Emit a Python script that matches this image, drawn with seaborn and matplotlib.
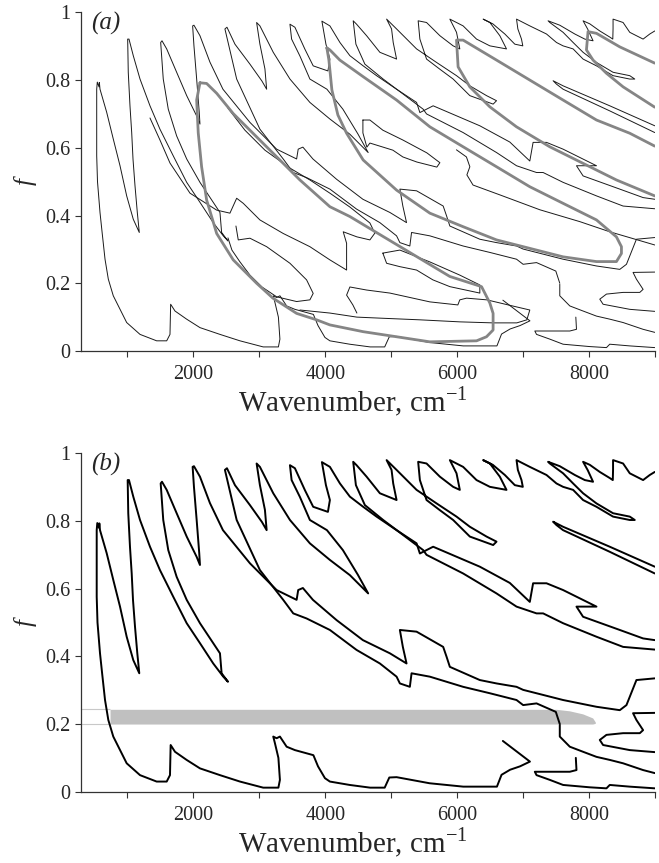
import matplotlib
matplotlib.use("Agg")
import matplotlib.pyplot as plt
import seaborn as sns

# contour traces: (wavenumber cm-1, f)
edge_main = [(6690, 0.15), (7100, 0.089), (6950, 0.075), (6800, 0.065), (6670, 0.05), (6600, 0.015),
             (6090, 0.015), (5580, 0.025), (5080, 0.043), (4970, 0.042), (4900, 0.012), (4680, 0.012),
             (4370, 0.02), (4070, 0.03), (3995, 0.04), (3890, 0.075), (3820, 0.108), (3540, 0.123),
             (3415, 0.133), (3313, 0.163), (3263, 0.158), (3212, 0.163), (3238, 0.143), (3290, 0.10),
             (3313, 0.035), (3290, 0.012), (3060, 0.012), (2708, 0.03), (2405, 0.049), (2102, 0.069),
             (1900, 0.094), (1724, 0.118), (1658, 0.138), (1648, 0.049), (1598, 0.03), (1446, 0.03),
             (1194, 0.049), (992, 0.084), (789, 0.163), (714, 0.212), (664, 0.271), (620, 0.35),
             (588, 0.409), (550, 0.5), (538, 0.576), (538, 0.773), (547, 0.794), (573, 0.78), (578, 0.793),
             (588, 0.773), (689, 0.705), (789, 0.626), (891, 0.547), (992, 0.458), (1092, 0.389),
             (1183, 0.35), (1153, 0.409), (1118, 0.488), (1088, 0.566), (1068, 0.645), (1042, 0.724),
             (1016, 0.823), (1007, 0.921), (1027, 0.921), (1092, 0.872), (1194, 0.803), (1345, 0.724),
             (1496, 0.655), (1698, 0.576), (1901, 0.498), (2102, 0.439), (2303, 0.379), (2455, 0.34),
             (2526, 0.325), (2430, 0.35), (2405, 0.409), (2303, 0.439), (2102, 0.498), (1901, 0.567),
             (1749, 0.635), (1622, 0.714), (1546, 0.803), (1507, 0.911), (1527, 0.916), (1598, 0.892),
             (1749, 0.823), (1901, 0.754), (2052, 0.694), (2102, 0.67), (2091, 0.705), (2052, 0.803),
             (2011, 0.901), (1991, 0.96), (2011, 0.962), (2102, 0.931), (2253, 0.853), (2450, 0.773),
             (2859, 0.675), (3263, 0.596), (3566, 0.567), (3590, 0.596), (3661, 0.602), (3813, 0.567),
             (4172, 0.507), (4570, 0.448), (4979, 0.409), (5231, 0.379), (5175, 0.428), (5130, 0.478),
             (5383, 0.473), (5786, 0.428), (5837, 0.399), (5887, 0.369), (6341, 0.33), (6594, 0.32),
             (6897, 0.31), (6997, 0.301), (7300, 0.286), (7602, 0.271), (8108, 0.251), (8461, 0.241),
             (8562, 0.256), (8713, 0.330), (8991, 0.335)]

edge_mid = [(7552, 0.200), (7492, 0.236), (7200, 0.261), (6997, 0.256), (6897, 0.271), (6493, 0.291),
            (6088, 0.310), (5584, 0.340), (5307, 0.350), (5281, 0.310), (5130, 0.320), (5080, 0.340),
            (4827, 0.379), (4474, 0.419), (4070, 0.478), (3717, 0.512), (3515, 0.527), (3363, 0.567),
            (3010, 0.655), (2658, 0.803), (2480, 0.951), (2511, 0.956), (2632, 0.906), (2859, 0.847),
            (3041, 0.797), (3112, 0.773), (3086, 0.833), (3010, 0.906), (2960, 0.970), (3010, 0.960),
            (3212, 0.882), (3465, 0.803), (3767, 0.734), (4070, 0.685), (4373, 0.640), (4650, 0.586),
            (4494, 0.641), (4267, 0.714), (4025, 0.773), (3767, 0.803), (3616, 0.871), (3490, 0.921),
            (3465, 0.965), (3540, 0.956), (3692, 0.891), (3817, 0.842), (4040, 0.827), (4070, 0.862),
            (4010, 0.906), (3949, 0.974), (4070, 0.96), (4222, 0.911), (4373, 0.872), (4574, 0.842),
            (4777, 0.813), (5080, 0.773), (5383, 0.734), (5433, 0.704), (5634, 0.724), (6341, 0.665),
            (6795, 0.617), (7098, 0.561), (7148, 0.616), (7351, 0.616), (7602, 0.596), (8108, 0.547),
            (7805, 0.547), (7905, 0.517), (8461, 0.478), (8814, 0.453), (8991, 0.448)]

edge_top = [(8991, 0.42), (8511, 0.428), (8108, 0.458), (7602, 0.498), (7300, 0.527), (7200, 0.527),
            (6897, 0.547), (6594, 0.586), (6088, 0.645), (5534, 0.700), (5483, 0.714), (4877, 0.803),
            (4600, 0.847), (4464, 0.906), (4423, 0.975), (4474, 0.965), (4626, 0.931), (4827, 0.882),
            (5080, 0.862), (5029, 0.911), (5004, 0.951), (4929, 0.980), (5080, 0.951), (5383, 0.892),
            (5686, 0.852), (5988, 0.813), (6190, 0.783), (6443, 0.754), (6594, 0.739), (6543, 0.729),
            (6190, 0.754), (5937, 0.803), (5736, 0.832), (5534, 0.862), (5433, 0.921), (5407, 0.975),
            (5534, 0.970), (5736, 0.931), (5937, 0.901), (6038, 0.892), (5988, 0.941), (5887, 0.980),
            (6088, 0.960), (6291, 0.921), (6493, 0.901), (6745, 0.892), (6644, 0.931), (6493, 0.970),
            (6391, 0.980), (6538, 0.966), (6720, 0.936), (6871, 0.906), (6992, 0.901), (6972, 0.921),
            (6917, 0.951), (6897, 0.980), (6947, 0.975), (7098, 0.960), (7351, 0.936), (7502, 0.911),
            (7602, 0.901), (7754, 0.892), (7905, 0.862), (8108, 0.842), (8359, 0.813), (8612, 0.803),
            (8688, 0.803), (8612, 0.813), (8359, 0.823), (8108, 0.852), (7905, 0.882), (7754, 0.911),
            (7602, 0.941), (7401, 0.970), (7375, 0.975), (7552, 0.962), (7780, 0.936), (7931, 0.921),
            (8056, 0.916), (7976, 0.950), (7905, 0.975), (8007, 0.966), (8158, 0.945), (8309, 0.927),
            (8355, 0.921), (8359, 0.951), (8359, 0.980), (8511, 0.970), (8612, 0.941), (8814, 0.921),
            (8915, 0.936), (8991, 0.945)]

edge_finger_r = [(8991, 0.665), (8309, 0.724), (7602, 0.783), (7451, 0.798), (7502, 0.788), (7602, 0.773),
                 (8309, 0.709), (8991, 0.645)]

edge_br1 = [(8991, 0.233), (8662, 0.232), (8713, 0.212), (8814, 0.182), (8764, 0.173), (8511, 0.173),
            (8259, 0.168), (8158, 0.153), (8208, 0.138), (8612, 0.123), (8991, 0.117)]
edge_br2 = [(7552, 0.197), (7552, 0.163), (7704, 0.133), (7905, 0.118), (8108, 0.103), (8309, 0.094),
            (8511, 0.084), (8814, 0.064), (8991, 0.055)]
edge_br3 = [(7795, 0.10), (7805, 0.064), (7704, 0.059), (7174, 0.059), (7200, 0.049), (7401, 0.035),
            (7602, 0.02), (8007, 0.013), (8259, 0.01), (8309, 0.02), (8612, 0.015), (8991, 0.01)]

# further levels seen only in panel (a)
extra_a1 = [(1345, 0.688), (1496, 0.623), (1648, 0.555), (1951, 0.466), (2355, 0.416), (2556, 0.407),
            (2658, 0.451), (2758, 0.436), (3010, 0.387), (3363, 0.347), (3767, 0.308), (4070, 0.269),
            (4323, 0.239), (4323, 0.318), (4272, 0.352), (4479, 0.337), (4676, 0.328), (4751, 0.348),
            (4676, 0.378), (4373, 0.425), (4070, 0.466), (3767, 0.505), (3465, 0.540), (3086, 0.593),
            (2783, 0.652), (2526, 0.717)]
extra_a2 = [(2647, 0.369), (2682, 0.328), (2859, 0.333), (3112, 0.308), (3465, 0.259), (3717, 0.210),
            (3817, 0.170), (3767, 0.151), (3566, 0.146), (3263, 0.160), (3041, 0.189), (2859, 0.224),
            (2708, 0.263), (2586, 0.298), (2526, 0.334)]
extra_a3 = [(3616, 0.121), (4070, 0.112), (4479, 0.100), (4827, 0.097), (5433, 0.092), (6038, 0.086),
            (6538, 0.083), (6901, 0.083), (7053, 0.092), (7098, 0.121), (6901, 0.130), (6447, 0.151),
            (6140, 0.156), (6038, 0.151), (6008, 0.136), (5584, 0.145), (4979, 0.171), (4626, 0.180),
            (4373, 0.189), (4323, 0.165), (4418, 0.136), (4479, 0.112)]
extra_a4 = [(4872, 0.289), (5130, 0.298), (5584, 0.263), (6038, 0.224), (6341, 0.195), (6341, 0.171),
            (5887, 0.190), (5630, 0.210), (5383, 0.239), (5130, 0.249), (4929, 0.259), (4872, 0.289)]
extra_a5 = [(4570, 0.682), (4676, 0.682), (4872, 0.652), (5175, 0.623), (5539, 0.585), (5736, 0.556),
            (5690, 0.543), (5387, 0.558), (5175, 0.573), (5024, 0.593), (4676, 0.614), (4630, 0.602),
            (4570, 0.644), (4570, 0.682)]
extra_a6 = [(5987, 0.594), (6138, 0.573), (6190, 0.544), (6145, 0.520), (6238, 0.490), (6644, 0.461),
            (7250, 0.417), (7855, 0.382), (8309, 0.352), (8991, 0.313)]

# grey loops, panel (a)
loop1 = [(2102, 0.792), (2203, 0.790), (2355, 0.761), (2606, 0.701), (3111, 0.603), (3616, 0.505),
         (4070, 0.426), (4373, 0.397), (4877, 0.338), (5382, 0.279), (5887, 0.220), (6367, 0.190),
         (6492, 0.142), (6542, 0.111), (6542, 0.062), (6442, 0.042), (6291, 0.030), (5584, 0.027),
         (5080, 0.042), (4574, 0.057), (4070, 0.077), (3868, 0.092), (3566, 0.111), (3207, 0.156),
         (2960, 0.200), (2606, 0.269), (2355, 0.347), (2203, 0.446), (2127, 0.544), (2076, 0.644),
         (2052, 0.741), (2102, 0.792)]
loop2 = [(4024, 0.895), (4055, 0.859), (4100, 0.771), (4191, 0.697), (4323, 0.643), (4574, 0.564),
         (5080, 0.475), (5584, 0.407), (6088, 0.367), (6594, 0.328), (7098, 0.303), (7602, 0.278),
         (8108, 0.264), (8410, 0.264), (8486, 0.288), (8486, 0.308), (8410, 0.337), (8108, 0.387),
         (7602, 0.436), (7098, 0.485), (6594, 0.544), (6088, 0.603), (5584, 0.662), (5080, 0.741),
         (4574, 0.810), (4221, 0.859), (4070, 0.889), (4024, 0.895)]
loop3 = [(8990, 0.605), (8612, 0.643), (8108, 0.682), (7602, 0.741), (7098, 0.800), (6594, 0.859),
         (6088, 0.918), (5988, 0.918), (6012, 0.839), (6189, 0.780), (6492, 0.721), (6896, 0.662),
         (7400, 0.603), (7905, 0.554), (8410, 0.505), (8990, 0.458)]
loop4 = [(8990, 0.850), (8461, 0.898), (8108, 0.938), (7980, 0.943), (7956, 0.889), (8056, 0.859),
         (8259, 0.820), (8511, 0.780), (8990, 0.720)]

# grey band, panel (b)
band_wn = [740, 7500, 7700, 7900, 8050, 8090]
band_top = [0.2435, 0.2435, 0.239, 0.230, 0.218, 0.206]
band_bottom = [0.200, 0.200, 0.200, 0.200, 0.200, 0.202]

shared = [edge_main, edge_mid, edge_top, edge_finger_r, edge_br1, edge_br2, edge_br3]
extras = [extra_a1, extra_a2, extra_a3, extra_a4, extra_a5, extra_a6]

sns.set_style("ticks")
plt.rcParams['font.family'] = ['Liberation Serif', 'DejaVu Serif']
plt.rcParams['mathtext.fontset'] = 'custom'
plt.rcParams['mathtext.rm'] = 'Liberation Serif'

fig = plt.figure(figsize=(6.59, 8.63), dpi=100)
ax_a = fig.add_axes([0.1229, 0.5933, 0.8716, 0.3924])
ax_b = fig.add_axes([0.1229, 0.0826, 0.8716, 0.3921])


def trace(ax, pts, color, lw, z=2):
    xs, ys = zip(*pts)
    sns.lineplot(x=list(xs), y=list(ys), ax=ax, sort=False, estimator=None,
                 color=color, lw=lw, zorder=z, legend=False)


for pts in shared + extras:
    trace(ax_a, pts, '#1a1a1a', 0.7)
for pts in [loop1, loop2, loop3, loop4]:
    trace(ax_a, pts, '#858585', 2.0, z=3)

ax_b.fill_between(band_wn, band_bottom, band_top, color='#c0c0c0', lw=0, zorder=1)
ax_b.hlines([0.2, 0.2435], 300, 740, color='#c8c8c8', lw=0.8, zorder=1)
for pts in shared:
    trace(ax_b, pts, 'black', 1.4)

for ax, tag in [(ax_a, '(a)'), (ax_b, '(b)')]:
    ax.set_xlim(300, 9000)
    ax.set_ylim(0, 1.0)
    ax.set_xticks([2000, 4000, 6000, 8000])
    ax.set_xticks([1000, 3000, 5000, 7000, 9000], minor=True)
    ax.set_yticks([0, 0.2, 0.4, 0.6, 0.8, 1.0])
    ax.set_yticklabels(['0', '0.2', '0.4', '0.6', '0.8', '1'])
    ax.tick_params(which='both', direction='out', length=4, width=0.8, labelsize=14.5, color='#333333')
    ax.tick_params(axis='x', pad=6)
    for s in ['left', 'bottom']:
        ax.spines[s].set_linewidth(0.9)
        ax.spines[s].set_color('#333333')
    sns.despine(ax=ax)
    ax.set_xlabel('Wavenumber, cm$^{-1}$', fontsize=21, labelpad=4)
    ax.xaxis.set_label_coords(0.474, -0.1)
    ax.set_ylabel('f', fontsize=18, style='italic', labelpad=6)
    ax.text(0.018, 1.0, tag, transform=ax.transAxes, fontsize=18, style='italic', va='top', ha='left')

fig.savefig('out.png', dpi=100)
